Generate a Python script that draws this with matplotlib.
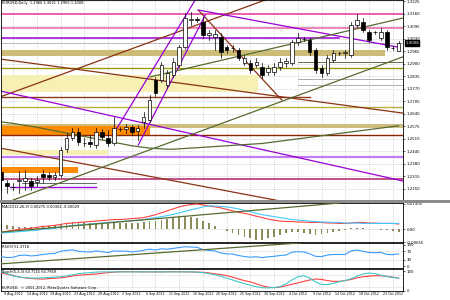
import pandas as pd
import matplotlib
matplotlib.use("Agg")
import matplotlib.pyplot as plt
from matplotlib.patches import Rectangle

# daily bars, broker with Sunday bars
dias = [d for d in pd.date_range("2012-08-07", "2012-10-24") if d.weekday() != 5]
n = len(dias)
x = list(range(n))

abertura = [1.2338, 1.2280, 1.2260, 1.2291, 1.2291, 1.2291, 1.2286, 1.2327, 1.2322, 1.2312,
            1.2322, 1.2457, 1.2514, 1.2546, 1.2488, 1.2494, 1.2478, 1.2546, 1.2514, 1.2488,
            1.2561, 1.2561, 1.2572, 1.2551, 1.2598, 1.2608, 1.2816, 1.2816, 1.2790, 1.2842,
            1.2894, 1.2988, 1.3128, 1.3133, 1.3118, 1.3050, 1.3040, 1.3040, 1.2988, 1.2982,
            1.2972, 1.2904, 1.2904, 1.2894, 1.2884, 1.2858, 1.2858, 1.2884, 1.2904, 1.2904,
            1.3014, 1.3029, 1.3024, 1.2972, 1.2878, 1.2852, 1.2920, 1.2956, 1.2956, 1.2946,
            1.3102, 1.3118, 1.3066, 1.3066, 1.3034, 1.3066, 1.2982, 1.2966]
maxima = [1.2358, 1.2296, 1.2280, 1.2343, 1.2348, 1.2306, 1.2317, 1.2348, 1.2338, 1.2338,
          1.2468, 1.2540, 1.2566, 1.2566, 1.2514, 1.2530, 1.2566, 1.2561, 1.2556, 1.2624,
          1.2572, 1.2587, 1.2582, 1.2582, 1.2650, 1.2738, 1.2832, 1.2910, 1.2868, 1.2930,
          1.2998, 1.3164, 1.3170, 1.3144, 1.3144, 1.3076, 1.3076, 1.3060, 1.2998, 1.2998,
          1.2982, 1.2946, 1.2920, 1.2930, 1.2904, 1.2894, 1.2904, 1.2930, 1.2930, 1.3024,
          1.3060, 1.3040, 1.3034, 1.2982, 1.2894, 1.2946, 1.2972, 1.2962, 1.2972, 1.3118,
          1.3159, 1.3138, 1.3076, 1.3071, 1.3086, 1.3076, 1.2992, 1.3021]
minimas = [1.2244, 1.2228, 1.2244, 1.2228, 1.2244, 1.2244, 1.2265, 1.2280, 1.2296, 1.2296,
           1.2312, 1.2442, 1.2504, 1.2478, 1.2473, 1.2468, 1.2462, 1.2509, 1.2473, 1.2478,
           1.2551, 1.2540, 1.2530, 1.2504, 1.2566, 1.2598, 1.2733, 1.2806, 1.2774, 1.2832,
           1.2884, 1.2977, 1.3102, 1.3118, 1.3034, 1.3024, 1.2972, 1.2930, 1.2956, 1.2962,
           1.2920, 1.2894, 1.2852, 1.2884, 1.2826, 1.2842, 1.2842, 1.2868, 1.2884, 1.2894,
           1.2998, 1.3019, 1.2946, 1.2852, 1.2832, 1.2842, 1.2910, 1.2946, 1.2930, 1.2936,
           1.3092, 1.3066, 1.3014, 1.3055, 1.3024, 1.2972, 1.2972, 1.2965]
fecho = [1.2296, 1.2265, 1.2262, 1.2296, 1.2306, 1.2265, 1.2296, 1.2312, 1.2312, 1.2322,
         1.2452, 1.2514, 1.2546, 1.2494, 1.2490, 1.2483, 1.2546, 1.2520, 1.2488, 1.2566,
         1.2563, 1.2572, 1.2546, 1.2566, 1.2624, 1.2712, 1.2748, 1.2894, 1.2852, 1.2910,
         1.2988, 1.3138, 1.3133, 1.3128, 1.3050, 1.3060, 1.3055, 1.2962, 1.2972, 1.2980,
         1.2930, 1.2930, 1.2868, 1.2910, 1.2842, 1.2878, 1.2884, 1.2910, 1.2915, 1.3014,
         1.3034, 1.3027, 1.2962, 1.2868, 1.2852, 1.2930, 1.2956, 1.2958, 1.2960, 1.3102,
         1.3128, 1.3076, 1.3024, 1.3064, 1.3066, 1.2988, 1.2980, 1.3008]

# slow moving average (one value per bar)
media = [1.2598, 1.2594, 1.2590, 1.2585, 1.2580, 1.2575, 1.2570, 1.2564, 1.2558, 1.2552,
         1.2546, 1.2540, 1.2534, 1.2528, 1.2522, 1.2516, 1.2510, 1.2504, 1.2498, 1.2492,
         1.2486, 1.2480, 1.2474, 1.2470, 1.2466, 1.2462, 1.2460, 1.2458, 1.2456, 1.2456,
         1.2458, 1.2460, 1.2462, 1.2464, 1.2466, 1.2468, 1.2470, 1.2472, 1.2474, 1.2476,
         1.2478, 1.2480, 1.2482, 1.2484, 1.2486, 1.2490, 1.2494, 1.2498, 1.2502, 1.2506,
         1.2510, 1.2514, 1.2518, 1.2522, 1.2526, 1.2530, 1.2534, 1.2538, 1.2542, 1.2546,
         1.2550, 1.2554, 1.2558, 1.2562, 1.2566, 1.2570, 1.2574, 1.2578]

# horizontal levels: price, first bar, last bar, colour, width
niveis = [(1.3159, None, None, "#e8389c", 1.1),
          (1.3086, None, None, "#e860a6", 1.1),
          (1.3034, None, 57.0, "#9b00d6", 1.1),
          (1.3008, None, None, "#b0b0b0", 0.6),
          (1.2910, 50.0, None, "#6b6b4a", 0.7),
          (1.2878, None, None, "#9c9a00", 1.0),
          (1.2821, 50.0, None, "#a0a0a0", 0.6),
          (1.2790, 50.0, None, "#a0a0a0", 0.6),
          (1.2728, None, 52.0, "#8b3a1a", 1.0),
          (1.2676, None, None, "#b8b040", 1.0),
          (1.2530, None, None, "#8b2500", 1.0),
          (1.2416, None, None, "#c27cf5", 1.6),
          (1.2301, None, None, "#b0206a", 1.1),
          (1.2260, 1.5, 16.0, "#9b00d6", 1.0),
          (1.2283, 3.5, 16.0, "#505050", 0.6)]

# shaded zones: lower price, upper price, first bar, last bar, colour
zonas = [(1.2941, 1.2972, None, 64.7, "#cdbb78"),
         (1.2754, 1.2842, None, 43.3, "#f6f0b4"),
         (1.2566, 1.2587, None, None, "#cdbe80"),
         (1.2530, 1.2577, None, 25.1, "#ff8c00"),
         (1.2426, 1.2452, None, 18.0, "#f6f0b4"),
         (1.2332, 1.2363, None, 13.0, "#ff8c00")]

# trend lines: bar0, price0, bar1, price1, colour
linhas = [(-0.2, 1.2728, 44.5, 1.3232, "#8b3214"),
          (-0.2, 1.2925, 67.7, 1.2644, "#8b3214"),
          (-0.2, 1.2462, 47.0, 1.2187, "#8b3214"),
          (33.2, 1.3180, 47.3, 1.2712, "#8b3214"),
          (33.2, 1.3180, 66.7, 1.2988, "#9b00d6"),
          (-0.2, 1.2759, 67.7, 1.2291, "#9b00d6"),
          (18.8, 1.2530, 32.7, 1.3232, "#9b00d6"),
          (23.1, 1.2478, 34.4, 1.3154, "#9b00d6"),
          (2.0, 1.2192, 67.7, 1.2936, "#556b2f"),
          (25.1, 1.2832, 67.7, 1.3138, "#556b2f")]

precos_eixo = [1.3225, 1.3160, 1.3095, 1.3030, 1.2965, 1.2900, 1.2835, 1.2770,
               1.2705, 1.2640, 1.2575, 1.2510, 1.2445, 1.2380, 1.2315, 1.2250]

# MACD in pips
macd_hist = [30, 20, 15, 10, 10, 10, 10, 10, 15, 20, 25, 30, 35, 35, 35, 30, 30, 30, 30, 30,
             30, 30, 30, 30, 35, 40, 45, 50, 55, 60, 65, 70, 65, 60, 45, 30, 15, 0, -10, -20,
             -30, -40, -45, -55, -55, -45, -40, -30, -20, -15, -15, -20, -25, -30, -25, -20,
             -15, -10, -5, 5, 5, 5, 0, 0, -5, -5, -10, -15]
macd_main = [-15, -10, -5, 0, 2, 5, 10, 15, 17, 20, 25, 30, 32, 35, 37, 40, 42, 45, 47, 50,
             50, 52, 55, 57, 60, 67, 75, 85, 95, 105, 115, 122, 127, 130, 125, 120, 115, 110,
             102, 95, 87, 82, 75, 67, 60, 52, 47, 42, 40, 40, 37, 37, 35, 35, 35, 32, 32, 30,
             30, 32, 35, 35, 32, 32, 30, 30, 30, 27]
macd_sinal = [-20, -17, -15, -12, -10, -7, -5, 0, 2, 5, 10, 15, 20, 22, 25, 27, 30, 32, 35, 37,
              40, 42, 45, 47, 50, 55, 60, 65, 70, 77, 85, 92, 100, 107, 115, 120, 120, 117,
              115, 110, 105, 97, 90, 82, 75, 70, 65, 60, 55, 50, 47, 45, 42, 40, 37, 37, 35,
              35, 32, 32, 32, 30, 30, 30, 30, 30, 30, 30]

rsi = [45, 40, 42, 50, 52, 48, 50, 55, 58, 60, 70, 74, 77, 70, 68, 66, 72, 68, 64, 72,
       70, 71, 67, 70, 75, 80, 76, 82, 80, 84, 88, 92, 90, 89, 78, 74, 72, 62, 58, 57,
       50, 45, 42, 44, 40, 44, 46, 50, 52, 66, 68, 67, 58, 46, 45, 52, 55, 55, 55, 72,
       76, 70, 64, 63, 65, 55, 54, 58]

stoch_k = [97, 88, 76, 70, 67, 65, 65, 66, 68, 70, 72, 76, 82, 88, 91, 93, 96, 97, 97, 97,
           97, 97, 97, 97, 97, 97, 97, 97, 97, 97, 97, 97, 97, 96, 93, 88, 82, 75, 65, 55,
           45, 36, 28, 20, 15, 14, 16, 20, 35, 55, 72, 77, 65, 45, 32, 31, 38, 46, 52, 62,
           75, 86, 91, 88, 80, 73, 68, 65]
stoch_d = [91, 85, 78, 70, 66, 63, 61, 60, 62, 64, 66, 70, 76, 80, 82, 84, 86, 90, 93, 96,
           98, 98, 98, 98, 97, 97, 97, 97, 98, 98, 98, 97, 97, 96, 95, 92, 87, 83, 78, 70,
           60, 52, 45, 35, 25, 18, 15, 18, 25, 33, 40, 48, 55, 60, 58, 52, 48, 48, 52, 58,
           66, 72, 75, 77, 77, 74, 70, 65]

W, H = 450, 300
fig = plt.figure(figsize=(4.5, 3), dpi=100)
fig.patch.set_facecolor("white")
esq, larg = 0.5 / W, 402.5 / W
ax = fig.add_axes([esq, 100 / H, larg, 200 / H])
ax_macd = fig.add_axes([esq, 58 / H, larg, 39 / H])
ax_rsi = fig.add_axes([esq, 32 / H, larg, 25 / H])
ax_sto = fig.add_axes([esq, 9 / H, larg, 22 / H])
fig.add_artist(Rectangle((0, 97 / H), 1, 3 / H, transform=fig.transFigure,
                         facecolor="#8c8c8c", edgecolor="none"))

xmin, xmax = -0.14, 67.74
fs = 2.6       # titles
fs_eixo = 2.8  # right-hand scale
fs_data = 2.3  # dates
grade = dict(color="#c8c8c8", lw=0.5, ls=(0, (1.5, 1.5)))
ticks_datas = list(range(2, n, 4))

for a in [ax, ax_macd, ax_rsi, ax_sto]:
    a.set_xlim(xmin, xmax)
    a.yaxis.tick_right()
    a.tick_params(axis="y", labelsize=fs_eixo, length=1.5, width=0.4, pad=1)
    a.tick_params(axis="x", length=0, labelsize=fs_data, pad=1)
    a.set_xticks(ticks_datas)
    a.set_xticklabels([])
    for t in ticks_datas:
        a.axvline(t, zorder=0, **grade)
    for s in a.spines.values():
        s.set_color("black")
        s.set_linewidth(0.6)

# main chart
ax.set_ylim(1.2192, 1.3232)
ax.set_yticks(precos_eixo)
ax.set_yticklabels([f"{p:.4f}" for p in precos_eixo])
for p in precos_eixo:
    ax.axhline(p, zorder=0, **grade)

for baixo, cima, b0, b1, cor in zonas:
    b0 = xmin if b0 is None else b0
    b1 = xmax if b1 is None else b1
    ax.add_patch(Rectangle((b0, baixo), b1 - b0, cima - baixo, facecolor=cor,
                           edgecolor="none", zorder=1))
for preco, b0, b1, cor, lw in niveis:
    b0 = xmin if b0 is None else b0
    b1 = xmax if b1 is None else b1
    ax.plot([b0, b1], [preco, preco], color=cor, lw=lw, zorder=2)
for b0, p0, b1, p1, cor in linhas:
    ax.plot([b0, b1], [p0, p1], color=cor, lw=0.9, zorder=2)
ax.plot(x, media, color="#556b2f", lw=0.9, zorder=2)

for i in x:
    o, h, l, c = abertura[i], maxima[i], minimas[i], fecho[i]
    ax.plot([i, i], [l, h], color="black", lw=0.5, zorder=3)
    cor = "white" if c >= o else "black"
    ax.add_patch(Rectangle((i - 0.3, min(o, c)), 0.6, max(abs(c - o), 0.00006),
                           facecolor=cor, edgecolor="black", lw=0.5, zorder=4))

ax.text(0.004, 0.995, "EURUSD,Daily  1.2966 1.3021 1.2965 1.3008", transform=ax.transAxes,
        fontsize=fs, va="top", ha="left")
ax.annotate(f"{fecho[-1]:.4f}", xy=(1.0, fecho[-1]), xycoords=("axes fraction", "data"),
            xytext=(1.5, 0), textcoords="offset points", fontsize=fs_eixo, color="white",
            va="center", ha="left",
            bbox=dict(boxstyle="square,pad=0.15", facecolor="black", edgecolor="black"))

# MACD
mh = [v / 10000 for v in macd_hist]
ax_macd.set_ylim(-0.0065, 0.0135)
ax_macd.bar(x, mh, width=0.3, color="#8c8c5a", zorder=2)
ax_macd.plot(x, [v / 10000 for v in macd_main], color="#ff4040", lw=0.8, zorder=3)
ax_macd.plot(x, [v / 10000 for v in macd_sinal], color="#40c8ff", lw=0.8, zorder=3)
ax_macd.plot([-0.2, 57.0], [-0.0015, 0.0135], color="#556b2f", lw=0.9, zorder=3)
ax_macd.axhline(0, zorder=0, **grade)
ax_macd.set_yticks([0.01305, 0.0, -0.00655])
ax_macd.set_yticklabels(["0.01305", "0.00", "-0.00655"])
ax_macd.text(0.004, 0.96, "MACD(12,26,9) 0.00275 0.00304 -0.00029", transform=ax_macd.transAxes,
             fontsize=fs, va="top")

# RSI
ax_rsi.set_ylim(-9.5, 109.5)
ax_rsi.plot(x, rsi, color="#3c9cff", lw=0.8, zorder=3)
ax_rsi.plot([-0.2, 50.5], [10, 110], color="#556b2f", lw=0.9, zorder=3)
for nv in [70, 30]:
    ax_rsi.axhline(nv, zorder=0, **grade)
ax_rsi.set_yticks([100, 70, 30, 0])
ax_rsi.text(0.004, 0.94, "RSI(9) 51.3718", transform=ax_rsi.transAxes, fontsize=fs, va="top")

# Stochastic
ax_sto.set_ylim(-2, 112)
ax_sto.plot(x, stoch_d, color="#ff4040", lw=0.8, zorder=3)
ax_sto.plot(x, stoch_k, color="#40c8c8", lw=0.8, zorder=3)
for nv in [80, 20]:
    ax_sto.axhline(nv, zorder=0, **grade)
ax_sto.set_yticks([100, 0])
ax_sto.text(0.004, 0.94, "Stoch(5,3,3) 63.7115 64.7969", transform=ax_sto.transAxes,
            fontsize=fs, va="top")
ax_sto.text(0.004, 0.05, "EURUSD,  \u00a9 2001-2012, MetaQuotes Software Corp.",
            transform=ax_sto.transAxes, fontsize=fs, va="bottom")
ax_sto.set_xticklabels([f"{dias[t].day} {dias[t].strftime('%b')} {dias[t].year}"
                        for t in ticks_datas])

fig.savefig("out.png", dpi=100, facecolor="white")
